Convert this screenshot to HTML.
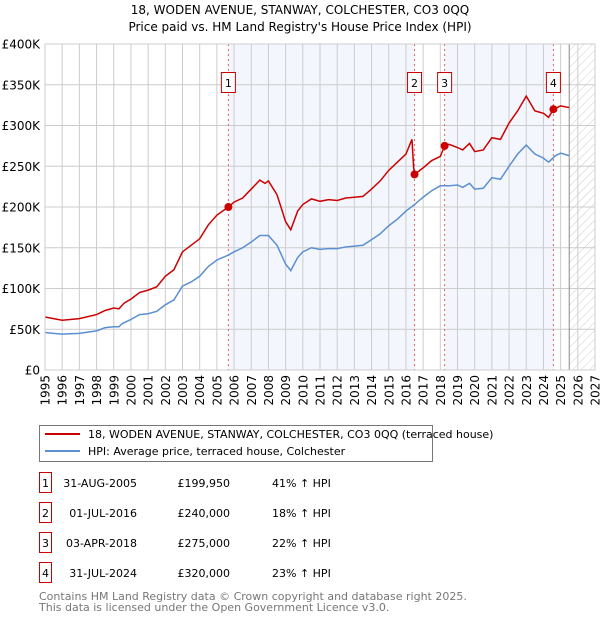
<!DOCTYPE html>
<html><head><meta charset="utf-8"><style>
body{margin:0;background:#fff;font-family:"Liberation Sans","DejaVu Sans",sans-serif;}
svg{display:block}
</style></head><body>
<svg id="chart" width="600" height="620" xmlns="http://www.w3.org/2000/svg" font-family="DejaVu Sans, Liberation Sans, sans-serif">
<defs><pattern id="hatch" width="6" height="6" patternUnits="userSpaceOnUse" patternTransform="rotate(45)"><line x1="0" y1="0" x2="0" y2="6" stroke="#ccc" stroke-width="1"/></pattern></defs>
<text x="300" y="14" text-anchor="middle" font-size="12">18, WODEN AVENUE, STANWAY, COLCHESTER, CO3 0QQ</text>
<text x="300" y="31" text-anchor="middle" font-size="12">Price paid vs. HM Land Registry's House Price Index (HPI)</text>
<g id="plot"></g>
<g>
<rect x="39.5" y="425.5" width="393" height="36" fill="#fff" stroke="#777"/>
<line x1="45" y1="434" x2="80" y2="434" stroke="#cc0000" stroke-width="2"/>
<text x="88" y="438" font-size="11">18, WODEN AVENUE, STANWAY, COLCHESTER, CO3 0QQ (terraced house)</text>
<line x1="45" y1="451" x2="80" y2="451" stroke="#5b8fd0" stroke-width="2"/>
<text x="88" y="455" font-size="11">HPI: Average price, terraced house, Colchester</text>
</g>
<g id="table" font-size="11"></g>
<text x="39" y="600" font-size="11" fill="#777">Contains HM Land Registry data © Crown copyright and database right 2025.</text>
<text x="39" y="611" font-size="11" fill="#777">This data is licensed under the Open Government Licence v3.0.</text>
</svg>
<script>
const hpiYears=[1995,1995.5,1996,1997,1998,1998.5,1999,1999.3,1999.5,2000,2000.5,2001,2001.5,2002,2002.5,2003,2003.5,2004,2004.5,2005,2005.67,2006,2006.5,2007,2007.5,2008,2008.5,2009,2009.3,2009.7,2010,2010.5,2011,2011.5,2012,2012.5,2013,2013.5,2014,2014.5,2015,2015.5,2016,2016.5,2017,2017.5,2018,2018.5,2019,2019.3,2019.7,2020,2020.5,2021,2021.5,2022,2022.5,2023,2023.5,2024,2024.3,2024.7,2025,2025.5];
const hpiValues=[46,45,44,45,48,52,53,53,57,62,68,69,72,80,86,103,108,115,127,135,141,145,150,157,165,165,153,130,122,138,145,150,148,149,149,151,152,153,160,167,177,185,195,203,212,220,226,226,227,224,229,222,223,236,234,250,265,276,265,260,255,263,266,263];
const redYears=[1995,1996,1997,1998,1998.5,1999,1999.3,1999.6,2000,2000.5,2001,2001.5,2002,2002.5,2003,2003.5,2004,2004.5,2005,2005.67,2006,2006.5,2007,2007.5,2007.8,2008,2008.5,2009,2009.3,2009.7,2010,2010.5,2011,2011.5,2012,2012.5,2013,2013.5,2014,2014.5,2015,2015.5,2016,2016.35,2016.45,2016.5,2017,2017.5,2018,2018.25,2018.5,2019,2019.3,2019.7,2020,2020.5,2021,2021.5,2022,2022.5,2023,2023.5,2024,2024.3,2024.58,2025,2025.5];
const redValues=[65,61,63,68,73,76,75,82,87,95,98,102,115,123,145,153,161,178,190,199.95,206,211,222,233,229,232,215,182,172,195,203,210,207,209,208,211,212,213,222,232,245,255,265,283,248,240,248,257,262,275,277,273,270,278,268,270,285,283,303,318,336,318,315,310,320,324,322];
const saleLabels=["1","2","3","4"];
const saleYears=[2005.67,2016.5,2018.25,2024.58];
const salePrices=[199950,240000,275000,320000];
const saleDates=["31-AUG-2005","01-JUL-2016","03-APR-2018","31-JUL-2024"];
const salePriceText=["£199,950","£240,000","£275,000","£320,000"];
const saleHpi=["41% ↑ HPI","18% ↑ HPI","22% ↑ HPI","23% ↑ HPI"];
const yTicks=[0,50,100,150,200,250,300,350,400];
const yTickLabels=["£0","£50K","£100K","£150K","£200K","£250K","£300K","£350K","£400K"];
const xStart=1995,xEnd=2027,dataEnd=2025.5;

const L=45,R=595,T=44,B=370;
const X=y=>L+(y-xStart)/(xEnd-xStart)*(R-L);
const Y=v=>B-v/400*(B-T);
const NS="http://www.w3.org/2000/svg";
const plot=document.getElementById('plot');
function mk(tag,attrs,parent){const e=document.createElementNS(NS,tag);for(const k in attrs)e.setAttribute(k,attrs[k]);(parent||plot).appendChild(e);return e;}

let e;
e=mk('rect',{x:X(saleYears[0]),y:T,width:X(saleYears[1])-X(saleYears[0]),height:B-T,fill:'#f3f6fd'});


e=mk('rect',{x:X(saleYears[2]),y:T,width:X(saleYears[3])-X(saleYears[2]),height:B-T,fill:'#f3f6fd'});


e=mk('rect',{x:X(dataEnd),y:T,width:R-X(dataEnd),height:B-T,fill:'url(#hatch)'});



for(let yr=xStart;yr<=xEnd;yr++){
  e=mk('line',{x1:X(yr),x2:X(yr),y1:T,y2:B,stroke:'#ccc','stroke-width':1});
  
  
  e=mk('text',{x:0,y:0,'font-size':12,'text-anchor':'end',transform:`translate(${X(yr)+4.5},375) rotate(-90)`});
  e.textContent=yr;
  
  
}
yTicks.forEach((v,i)=>{
  e=mk('line',{x1:L,x2:R,y1:Y(v),y2:Y(v),stroke:'#ccc','stroke-width':1});
  
  
  e=mk('text',{x:40,y:Y(v)+4.5,'font-size':12,'text-anchor':'end'});
  e.textContent=yTickLabels[i];
  
  
});
e=mk('line',{x1:X(dataEnd),x2:X(dataEnd),y1:T,y2:B,stroke:'#888','stroke-width':1});



saleYears.forEach((yr,i)=>{
  e=mk('line',{x1:X(yr),x2:X(yr),y1:T,y2:B,stroke:'#e06060','stroke-width':1,'stroke-dasharray':'2,3'});
  
  
});

e=mk('polyline',{points:hpiYears.map((y,i)=>X(y)+','+Y(hpiValues[i])).join(' '),fill:'none',stroke:'#5b8fd0','stroke-width':1.5});


e=mk('polyline',{points:redYears.map((y,i)=>X(y)+','+Y(redValues[i])).join(' '),fill:'none',stroke:'#cc0000','stroke-width':1.5});



saleYears.forEach((yr,i)=>{
  e=mk('circle',{cx:X(yr),cy:Y(salePrices[i]/1000),r:4,fill:'#cc0000'});
  
  
  e=mk('rect',{x:X(yr)-7,y:72.5,width:14,height:20,fill:'#fff',stroke:'#cc0000'});
  
  
  e=mk('text',{x:X(yr),y:87,'font-size':11,'text-anchor':'middle'});
  e.textContent=saleLabels[i];
  
  
});
e=mk('rect',{x:L,y:T,width:R-L,height:B-T,fill:'none',stroke:'#ccc'});



const table=document.getElementById('table');
saleLabels.forEach((lab,i)=>{
  const cy=483+i*30;
  e=mk('rect',{x:39.5,y:cy-10.5,width:12,height:20,fill:'#fff',stroke:'#cc0000'},table);
  
  
  e=mk('text',{x:45.5,y:cy+4,'text-anchor':'middle'},table);
  e.textContent=lab;
  
  
  e=mk('text',{x:137,y:cy+4,'text-anchor':'end'},table);
  e.textContent=saleDates[i];
  
  
  e=mk('text',{x:230,y:cy+4,'text-anchor':'end'},table);
  e.textContent=salePriceText[i];
  
  
  e=mk('text',{x:272,y:cy+4},table);
  e.textContent=saleHpi[i];
  
  
});
</script>
</body></html>
